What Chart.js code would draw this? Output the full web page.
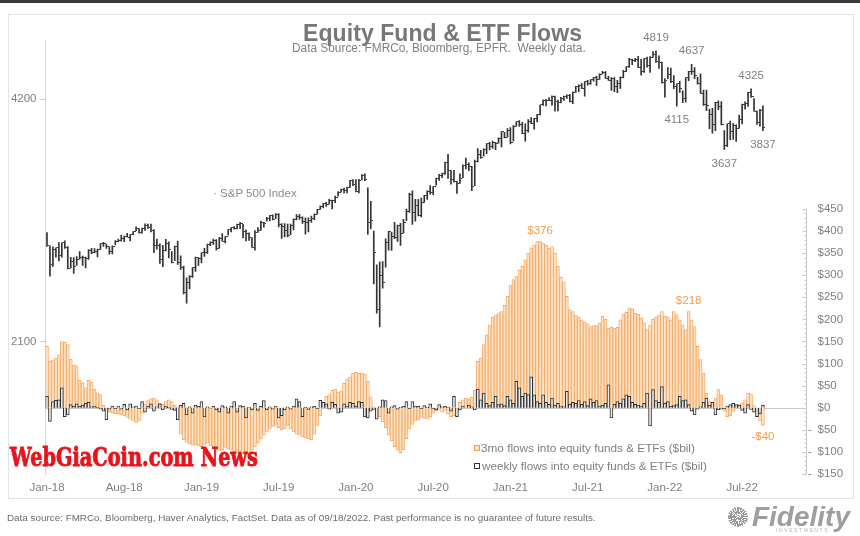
<!DOCTYPE html>
<html>
<head>
<meta charset="utf-8">
<script src="https://cdn.jsdelivr.net/npm/chart.js@4.4.1/dist/chart.umd.min.js"></script>
<style>
  body { margin: 0; background: #fff; font-family: 'Liberation Sans', Arial, sans-serif; }
  #page { position: relative; width: 860px; height: 536px; overflow: hidden; background: #fff; }
  #topband { position: absolute; left: 0; top: 0; width: 860px; height: 3px; background: #3d3934; }
  #frame { position: absolute; left: 8px; top: 14px; width: 844px; height: 483px; border: 1px solid #e2e2e2; }
  #plot { position: absolute; left: 0; top: 0; width: 860px; height: 536px; }
  .txt { position: absolute; white-space: pre; color: #7f7f7f; font-size: 11.5px; line-height: 14px; }
  .sq { position: absolute; width: 4px; height: 4px; }
  #logoIcon { position: absolute; left: 728px; top: 507px; width: 20px; height: 20px; border-radius: 50%;
    background: repeating-conic-gradient(#999 0deg 11deg, #ffffff 11deg 16deg); }
</style>
</head>
<body>
<div id="page">
  <div id="topband"></div>
  <div id="frame"></div>
  <div id="plot"><canvas id="chart"></canvas></div>

  <div class="txt" id="title" style="left:303px; font-weight:bold; font-size:23px; line-height:26px; color:#777;">Equity Fund &amp; ETF Flows</div>
  <div class="txt" id="subtitle" style="left:292px; color:#808080;">Data Source: FMRCo, Bloomberg, EPFR.  Weekly data.</div>
  <div class="txt" id="spxLabel" style="left:213px; color:#8c8c8c;">· S&amp;P 500 Index</div>

  <div class="sq" style="left:474px; top:445px; border:1px solid #f0a055; background:#fde3c6;"></div>
  <div class="txt" id="leg1" style="left:481px;">3mo flows into equity funds &amp; ETFs ($bil)</div>
  <div class="sq" style="left:474px; top:463px; border:1px solid #333; background:#fff;"></div>
  <div class="txt" id="leg2" style="left:482px;">weekly flows into equity funds &amp; ETFs ($bil)</div>

  <div class="txt" id="watermark" style="left:10px; font-family:'DejaVu Serif', serif; font-weight:bold; font-size:26px; line-height:30px; color:#e8141b; -webkit-text-stroke:0.9px #e8141b;">WebGiaCoin.com News</div>

  <div class="txt" id="footer" style="left:7px; font-size:10px; line-height:12px; color:#6b6b6b;">Data source: FMRCo, Bloomberg, Haver Analytics, FactSet. Data as of 09/18/2022. Past performance is no guarantee of future results.</div>
  <div id="logoIcon"></div>
  <div class="txt" id="fidelity" style="left:752px; font-weight:bold; font-style:italic; font-size:22px; line-height:24px; color:#9e9e9e;">Fidelity</div>
  <div class="txt" id="investments" style="left:776px; top:527px; font-size:5px; line-height:6px; letter-spacing:1.6px; color:#b5b5b5;">INVESTMENTS</div>
</div>

<script>
// weekly S&P 500 bars, first week = week of 31 Jan 2018, last = week of 14 Sep 2022
const spxHigh = [
  2870,2763,2755,2747,2789,2786,2802,2757,2674,2672,2680,2718,2683,2676,2733,2743,2742,2737,2780,2791,2774,2755,2763,2804,2816,2848,2841,2863,2852,2877,2916,2902,2906,2941,2940,2940,2894,2817,2778,2766,2815,2795,2718,2760,2800,2685,2607,2521,
  2538,2597,2675,2672,2708,2744,2776,2794,2816,2812,2831,2861,2836,2893,2910,2918,2940,2955,2938,2892,2868,2829,2885,2911,2964,2955,2996,3014,3018,3028,3028,2943,2944,2939,2940,2985,3021,3022,3002,2993,2993,3008,3027,3067,3097,3120,3127,3154,3147,3183,3226,3248,
  3258,3267,3330,3338,3337,3341,3385,3393,3259,3137,2882,2617,2637,2641,2819,2880,2871,2955,2932,2945,2980,3068,3211,3233,3155,3155,3165,3190,3233,3280,3272,3352,3387,3399,3509,3588,3425,3428,3320,3393,3482,3549,3502,3466,3529,3645,3628,3644,3699,3712,3726,3711,3760,
  3826,3819,3860,3870,3894,3934,3950,3930,3914,3960,3983,3975,4020,4129,4191,4195,4218,4238,4234,4187,4219,4234,4249,4257,4287,4356,4372,4393,4415,4429,4440,4469,4480,4513,4545,4541,4482,4466,4465,4429,4475,4559,4608,4718,4708,4717,4743,4705,4713,4732,4740,4808,
  4819,4749,4665,4453,4595,4588,4490,4385,4416,4299,4465,4546,4637,4593,4471,4513,4308,4308,4081,4091,4159,4178,4168,3838,3913,3945,3918,3903,4013,4141,4167,4280,4325,4204,4062,4077,4119
];
const spxLow = [
  2759,2533,2605,2675,2647,2675,2742,2586,2593,2553,2612,2660,2613,2594,2658,2701,2707,2676,2735,2758,2743,2698,2699,2770,2793,2799,2796,2833,2802,2853,2885,2864,2864,2886,2904,2874,2710,2737,2628,2603,2722,2670,2631,2649,2621,2583,2409,2346,
  2443,2524,2569,2612,2631,2681,2703,2764,2774,2728,2745,2800,2785,2848,2874,2898,2900,2901,2826,2801,2806,2750,2728,2871,2887,2914,2965,2967,2975,2985,2915,2822,2834,2834,2853,2892,2975,2979,2946,2856,2874,2953,2976,3024,3066,3078,3091,3113,3070,3124,3183,3222,
  3212,3214,3264,3281,3223,3214,3334,3328,2855,2902,2478,2280,2192,2448,2600,2728,2727,2820,2797,2766,2865,2969,3039,2936,2965,3009,3000,3128,3153,3201,3198,3285,3329,3356,3388,3349,3293,3313,3209,3302,3354,3440,3424,3234,3279,3511,3544,3569,3594,3633,3648,3636,3703,
  3663,3759,3768,3694,3725,3886,3885,3805,3723,3820,3915,3853,3935,4014,4124,4118,4179,4128,4056,4061,4152,4182,4207,4164,4145,4279,4289,4327,4233,4368,4378,4420,4367,4440,4512,4453,4428,4305,4288,4278,4329,4461,4540,4595,4631,4672,4594,4495,4532,4600,4531,4733,
  4662,4582,4395,4222,4451,4401,4327,4115,4279,4157,4162,4424,4506,4450,4381,4267,4124,4062,3859,3811,3838,4074,3900,3637,3667,3738,3742,3722,3864,3913,4079,4112,4218,4057,3907,3887,3837
];
const spxClose = [
  2762,2620,2732,2747,2691,2786,2752,2588,2641,2604,2656,2670,2670,2663,2728,2713,2721,2735,2779,2780,2755,2718,2760,2801,2802,2819,2840,2833,2850,2875,2902,2872,2905,2930,2914,2886,2767,2768,2659,2723,2781,2736,2633,2760,2633,2600,2417,2486,
  2532,2596,2671,2665,2707,2708,2776,2793,2804,2743,2822,2801,2834,2893,2907,2905,2940,2946,2881,2860,2826,2752,2873,2887,2950,2942,2990,3014,2977,3025,2932,2919,2889,2847,2926,2979,3007,2992,2961,2952,2970,2986,3023,3067,3093,3120,3110,3141,3146,3169,3221,3240,
  3235,3265,3330,3295,3226,3328,3380,3338,2954,2972,2711,2305,2541,2489,2790,2875,2837,2831,2930,2864,2955,3044,3194,3041,3098,3009,3130,3185,3225,3216,3271,3351,3373,3397,3508,3427,3341,3319,3298,3348,3477,3484,3465,3270,3510,3585,3558,3638,3699,3663,3709,3703,3756,
  3825,3768,3841,3714,3887,3934,3907,3811,3842,3943,3913,3975,4020,4129,4185,4180,4181,4233,4174,4156,4204,4230,4247,4166,4281,4352,4370,4327,4412,4395,4437,4468,4442,4509,4535,4458,4433,4455,4357,4391,4471,4545,4605,4698,4682,4698,4595,4538,4712,4620,4725,4766,
  4677,4662,4398,4432,4501,4419,4349,4385,4329,4204,4463,4543,4546,4488,4392,4272,4132,4123,4024,3901,4158,4109,3901,3675,3912,3825,3899,3863,3962,4130,4145,4280,4228,4058,3924,4068,3873
];

// flows, $bil, same weeks
const flows3mo = [
  139,105,108,112,120,150,148,143,110,97,95,62,57,45,62,58,42,34,30,6,
  -8,-10,-12,-14,-14,-16,-18,-22,-26,-30,-33,-30,-12,8,16,20,22,18,10,8,14,18,14,6,2,
  -60,-72,-78,-82,-85,-84,-86,-88,-85,-80,-86,-92,-95,-98,-96,-90,-94,-96,-100,-103,-98,-104,-106,-102,-96,-88,-80,-70,-62,-55,-48,-42,-40,-45,-50,-48,
  -40,-48,-55,-60,-62,-66,-68,-70,-72,-60,-40,-18,8,26,30,40,42,35,38,55,65,70,78,80,78,79,76,60,25,2,
  -5,-20,-32,-45,-62,-75,-88,-96,-102,-95,-70,-48,-38,-30,-28,-22,-24,-26,-20,-12,-8,-4,-10,-6,-14,-20,-18,-8,12,18,22,20,24,40,
  105,112,143,165,188,205,210,215,218,232,252,278,290,297,312,320,335,350,362,368,
  376,376,373,368,361,365,350,320,295,285,252,222,218,210,205,199,194,190,184,186,
  186,192,207,200,180,182,180,182,199,212,216,226,224,214,212,203,192,177,188,200,
  205,210,218,207,205,199,218,211,199,188,177,218,199,184,139,109,78,33,14,3,
  22,41,29,-8,-20,-18,-8,2,7,11,18,33,30,5,-8,-30,-40
];
const flowsWeekly = [
  26,-31,14,17,18,45,-20,-16,7,3,9,3,6,10,12,2,4,1,-3,-8,
  -27,-3,3,-2,4,-3,8,-5,9,2,4,-2,14,-10,3,9,-8,2,9,-5,
  4,1,-4,-6,-27,6,10,-16,2,-12,6,3,14,-21,2,-1,3,-5,-10,5,
  2,-12,4,14,-10,5,3,-23,1,-5,10,-6,3,16,-5,2,-3,4,
  -23,-18,-5,2,-3,4,20,14,-20,1,-4,2,3,-2,17,12,9,-3,12,8,
  -12,-10,9,4,12,10,3,14,12,-21,-23,-8,-4,-26,2,18,16,-12,2,5,
  -3,1,3,14,-2,14,4,3,-2,5,1,9,-2,-5,7,2,3,1,-8,26,
  -20,-5,4,0,6,2,-5,42,18,33,10,5,12,26,7,9,5,26,18,10,
  60,45,26,33,30,70,29,14,10,29,12,8,22,6,10,4,2,37,8,12,
  10,16,8,14,5,20,12,16,4,6,10,52,-23,8,14,10,20,29,26,12,
  8,6,4,10,33,-41,41,16,12,48,10,14,3,5,7,26,16,18,7,-8,
  -16,-3,2,12,22,6,12,-16,-5,-3,-2,4,7,10,7,6,-6,-12,7,-4,
  -10,-20,-14,6
];

const tickLabels = ['Jan-18', 'Aug-18', 'Jan-19', 'Jul-19', 'Jan-20', 'Jul-20', 'Jan-21', 'Jul-21', 'Jan-22', 'Jul-22'];
const tickWeeks = [0, 26, 52, 78, 104, 130, 156, 182, 208, 234];
const spxTicks = [2100, 4200];
const flowTicks = [-150, -100, -50, 0, 50, 100, 150, 200, 250, 300, 350, 400, 450];

// callouts: week index, value, which end of the bar
const spxNotes = [
  { i: 205, v: 4819, side: 'high' },
  { i: 217, v: 4637, side: 'high' },
  { i: 237, v: 4325, side: 'high' },
  { i: 212, v: 4115, side: 'low' },
  { i: 228, v: 3637, side: 'low' },
  { i: 241, v: 3837, side: 'low' }
];
const flowNotes = [
  { i: 166, v: 376, text: '$376' },
  { i: 216, v: 218, text: '$218' },
  { i: 241, v: -40, text: '-$40' }
];

const FONT = "'Liberation Sans', Arial, sans-serif";
const slots = Array.from({ length: 256 }, (_, i) => String(i)); // weekly slots, empty ones pad to the right axis

// small tick to the right of each bar for the weekly close
const closeTick = document.createElement('canvas');
closeTick.width = 5;
closeTick.height = 1;
const tctx = closeTick.getContext('2d');
tctx.fillStyle = '#3a3a3a';
tctx.fillRect(3, 0, 2, 1);

const overlay = {
  id: 'overlay',
  beforeDatasetsDraw(chart) {
    const { ctx, chartArea: a, scales: { yF } } = chart;
    const y0 = Math.round(yF.getPixelForValue(0)) + 0.5;
    ctx.save();
    ctx.strokeStyle = '#c8c8c8';
    ctx.lineWidth = 1;
    ctx.beginPath();
    ctx.moveTo(a.left, y0);
    ctx.lineTo(a.right, y0);
    ctx.stroke();
    ctx.restore();
  },
  afterDatasetsDraw(chart) {
    const { ctx, chartArea: a, scales: { x, yS, yF } } = chart;
    ctx.save();
    ctx.font = '11.5px ' + FONT;
    ctx.textAlign = 'center';
    ctx.textBaseline = 'middle';

    ctx.fillStyle = '#808080';
    spxNotes.forEach(n => {
      const dy = n.side === 'high' ? -13 : 14;
      ctx.fillText(String(n.v), x.getPixelForValue(n.i), yS.getPixelForValue(n.v) + dy);
    });

    ctx.fillStyle = '#ee9d4f';
    flowNotes.forEach(n => {
      const dy = n.v >= 0 ? -11 : 11;
      ctx.fillText(n.text, x.getPixelForValue(n.i), yF.getPixelForValue(n.v) + dy);
    });

    // right axis only spans the flow range
    const ax = Math.round(a.right) + 0.5;
    const top = yF.getPixelForValue(flowTicks[flowTicks.length - 1]);
    const bot = yF.getPixelForValue(flowTicks[0]);
    ctx.strokeStyle = '#c8c8c8';
    ctx.lineWidth = 1;
    ctx.beginPath();
    ctx.moveTo(ax, top);
    ctx.lineTo(ax, bot);
    for (let v = flowTicks[0]; v <= flowTicks[flowTicks.length - 1]; v += 10) {
      const y = Math.round(yF.getPixelForValue(v)) + 0.5;
      const len = v % 50 === 0 ? 4 : 2;
      ctx.moveTo(ax - len, y);
      ctx.lineTo(ax, y);
    }
    ctx.stroke();

    ctx.textAlign = 'left';
    ctx.fillStyle = '#7f7f7f';
    flowTicks.forEach(v => {
      const y = yF.getPixelForValue(v);
      ctx.fillText('$' + Math.abs(v), ax + 11, y);
      if (v < 0) ctx.fillText('-', ax + 1.5, y);
    });
    ctx.restore();
  }
};

new Chart(document.getElementById('chart'), {
  type: 'bar',
  data: {
    labels: slots,
    datasets: [
      {
        type: 'line',
        label: 'S&P close',
        data: spxClose,
        yAxisID: 'yS',
        showLine: false,
        pointStyle: closeTick,
        pointRadius: 2,
        order: 0
      },
      {
        label: 'S&P 500 Index',
        data: spxLow.map((lo, i) => [lo, spxHigh[i]]),
        yAxisID: 'yS',
        backgroundColor: '#333333',
        barThickness: 1,
        grouped: false,
        order: 1
      },
      {
        label: 'weekly flows into equity funds & ETFs ($bil)',
        data: flowsWeekly,
        yAxisID: 'yF',
        backgroundColor: '#ececec',
        borderColor: '#2e2e2e',
        borderWidth: 1,
        grouped: false,
        barPercentage: 1,
        categoryPercentage: 1,
        order: 2
      },
      {
        label: '3mo flows into equity funds & ETFs ($bil)',
        data: flows3mo,
        yAxisID: 'yF',
        backgroundColor: '#fde3c6',
        borderColor: '#f4a862',
        borderWidth: 0.9,
        grouped: false,
        barPercentage: 1,
        categoryPercentage: 1,
        order: 3
      }
    ]
  },
  options: {
    responsive: true,
    maintainAspectRatio: false,
    animation: false,
    devicePixelRatio: 1,
    layout: { padding: { top: 40, right: 54, left: 0, bottom: 0 } },
    plugins: { legend: { display: false }, tooltip: { enabled: false } },
    scales: {
      x: {
        type: 'category',
        offset: true,
        grid: { display: false, drawTicks: false },
        border: { display: false },
        ticks: {
          autoSkip: false,
          maxRotation: 0,
          minRotation: 0,
          padding: 7,
          color: '#7f7f7f',
          font: { family: FONT, size: 11.5 },
          callback: (v, i) => {
            const k = tickWeeks.indexOf(i);
            return k >= 0 ? tickLabels[k] : '';
          }
        },
        afterFit: s => { s.height = 62; }
      },
      yS: {
        type: 'logarithmic',
        position: 'left',
        min: 1441,
        max: 4970,
        bounds: 'data',
        afterBuildTicks: s => { s.ticks = spxTicks.map(v => ({ value: v })); },
        grid: { drawOnChartArea: false, drawTicks: true, tickLength: 5, color: '#c8c8c8' },
        border: { display: true, color: '#d6d6d6' },
        ticks: {
          color: '#7f7f7f',
          padding: 4,
          font: { family: FONT, size: 11.5 },
          callback: v => String(v)
        },
        afterFit: s => { s.width = 45.5; }
      },
      yF: {
        type: 'linear',
        position: 'right',
        display: false,
        min: -150,
        max: 832.6,
        bounds: 'data'
      }
    }
  },
  plugins: [overlay]
});

// size overlay texts to the widths they take in the picture
// mode 'size' changes the font size, 'scale' squeezes horizontally, 'space' widens the letter spacing
function fitText(id, width, cy, mode) {
  const el = document.getElementById(id);
  const cs = getComputedStyle(el);
  const m = document.createElement('canvas').getContext('2d');
  m.font = `${cs.fontStyle} ${cs.fontWeight} ${cs.fontSize} ${cs.fontFamily}`;
  const text = el.textContent;
  const w = m.measureText(text).width;
  if (mode === 'scale') {
    el.style.transformOrigin = 'left center';
    el.style.transform = `scaleX(${width / w})`;
  } else if (mode === 'space') {
    el.style.letterSpacing = ((width - w) / (text.length - 1)) + 'px';
  } else {
    el.style.fontSize = (parseFloat(cs.fontSize) * width / w) + 'px';
  }
  const lh = parseFloat(getComputedStyle(el).lineHeight);
  el.style.top = (cy - lh / 2) + 'px';
}

fitText('title', 279, 32.5, 'space');
fitText('subtitle', 294, 48);
fitText('spxLabel', 84, 193);
fitText('leg1', 214, 448);
fitText('leg2', 225, 466);
fitText('watermark', 248, 456.5, 'scale');
fitText('footer', 590, 518);
fitText('fidelity', 98, 517);
</script>
</body>
</html>
